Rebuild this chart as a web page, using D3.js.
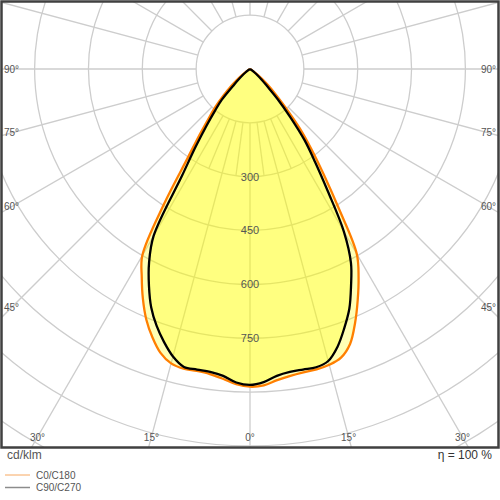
<!DOCTYPE html>
<html>
<head>
<meta charset="utf-8">
<script src="https://cdn.jsdelivr.net/npm/d3@7"></script>
<style>
  body { margin: 0; background: #fff; }
  svg { font-family: "Liberation Sans", Arial, sans-serif; }
</style>
</head>
<body>
<div id="chart"></div>
<script>
//Luminous intensity values (cd/klm), one array per C-plane half
var gammaDeg = [0, 2.5, 5, 7.5, 10, 12.5, 15, 17.5, 20, 22.5, 25, 27.5, 30, 32.5, 35, 37.5, 40, 42.5, 45,
    47.5, 50, 52.5, 55, 57.5, 60, 62.5, 65, 67.5, 70, 72.5, 75, 77.5, 80, 82.5, 85, 87.5, 90];

var c0Values = [886, 882, 870, 862, 858, 857, 853, 843, 815, 765, 710, 655, 595, 460, 357, 280, 215, 150, 105,
    75, 48, 28, 15, 7, 3, 1, 0, 0, 0, 0, 0, 0, 0, 0, 0, 0, 0];
var c180Values = [885, 879, 866, 857, 854, 855, 849, 829, 795, 755, 706, 653, 600, 445, 303, 230, 178, 142, 105,
    75, 48, 28, 15, 7, 3, 1, 0, 0, 0, 0, 0, 0, 0, 0, 0, 0, 0];
var c90Values = [880, 873, 858, 851, 850, 851, 842, 811, 768, 723, 666, 609, 523, 403, 316, 249, 173, 115, 67,
    45, 28, 16, 9, 5, 2, 1, 0, 0, 0, 0, 0, 0, 0, 0, 0, 0, 0];
var c270Values = [880, 874, 858, 851, 850, 850, 829, 797, 761, 719, 666, 609, 537, 352, 263, 199, 152, 116, 67,
    45, 28, 16, 9, 5, 2, 1, 0, 0, 0, 0, 0, 0, 0, 0, 0, 0, 0];

//Grid rings, the ones that get a label, and the angle ticks on the frame
var ringValues = [150, 300, 450, 600, 750, 900, 1050, 1200, 1350];
var ringLabels = [300, 450, 600, 750];
var angleTicks = [0, 15, 30, 45, 60, 75, 90];
//short in-between spokes under the pole (only between the first two rings)
var minorSpokes = [-22.5, -7.5, 7.5, 22.5];

var legendNames = ["C0/C180", "C90/C270"];
var legendColors = ["#f7a860", "#8c8c8c"];

var width = 500, height = 500;
var cx = 250, cy = 69;
var frame = { x: 1.5, y: 1.5, w: 497, h: 446 };
var rad = Math.PI / 180;

//Radius scale, 150 cd/klm is the little white disc round the pole
var rScale = d3.scaleLinear().domain([0, 150]).range([0, 53.85]);

var svg = d3.select("#chart")
    .append("svg")
    .attr("width", width)
    .attr("height", height);

svg.append("clipPath")
    .attr("id", "frameClip")
    .append("rect")
    .attr("x", frame.x)
    .attr("y", frame.y)
    .attr("width", frame.w)
    .attr("height", frame.h);

var plot = svg.append("g")
    .attr("clip-path", "url(#frameClip)")
    .append("g")
    .attr("transform", "translate(" + cx + "," + cy + ")");

//Rings
plot.selectAll("circle.ring")
    .data(ringValues)
    .enter()
    .append("circle")
    .attr("class", "ring")
    .attr("r", function (d) { return rScale(d); })
    .attr("fill", "none")
    .attr("stroke", "#cdcdcd")
    .attr("stroke-width", 1.3);

//Spokes: every 15 degrees out to the frame, plus the short ones
var spokes = d3.range(0, 360, 15).map(function (a) {
    return { a: a, r0: rScale(150), r1: rScale(1500) };
}).concat(minorSpokes.map(function (a) {
    return { a: a, r0: rScale(150), r1: rScale(300) };
}));

plot.selectAll("line.spoke")
    .data(spokes)
    .enter()
    .append("line")
    .attr("class", "spoke")
    .attr("x1", function (d) { return d.r0 * Math.sin(d.a * rad); })
    .attr("y1", function (d) { return d.r0 * Math.cos(d.a * rad); })
    .attr("x2", function (d) { return d.r1 * Math.sin(d.a * rad); })
    .attr("y2", function (d) { return d.r1 * Math.cos(d.a * rad); })
    .attr("stroke", "#cdcdcd")
    .attr("stroke-width", 1.3);

//Build the closed outline: left half from 90 down to 0, then right half back up to 90
function outline(leftValues, rightValues) {
    var pts = [];
    for (var i = gammaDeg.length - 1; i >= 0; i--) {
        pts.push({ a: Math.PI + gammaDeg[i] * rad, v: leftValues[i] });
    }
    for (var j = 1; j < gammaDeg.length; j++) {
        pts.push({ a: Math.PI - gammaDeg[j] * rad, v: rightValues[j] });
    }
    return pts;
}

var radialLine = d3.lineRadial()
    .angle(function (d) { return d.a; })
    .radius(function (d) { return rScale(d.v); })
    .curve(d3.curveCatmullRom.alpha(0.5));

var curves = [
    { name: "C0/C180", pts: outline(c180Values, c0Values), color: "#ff7f00" },
    { name: "C90/C270", pts: outline(c270Values, c90Values), color: "#000000" }
];

//Yellow fills first, then the outlines on top
plot.selectAll("path.fill")
    .data(curves)
    .enter()
    .append("path")
    .attr("class", "fill")
    .attr("d", function (d) { return radialLine(d.pts) + "Z"; })
    .attr("fill", "#ffff00")
    .attr("fill-opacity", 0.29)
    .attr("stroke", "none");

plot.selectAll("path.curve")
    .data(curves)
    .enter()
    .append("path")
    .attr("class", "curve")
    .attr("d", function (d) { return radialLine(d.pts); })
    .attr("fill", "none")
    .attr("stroke", function (d) { return d.color; })
    .attr("stroke-width", 2.3)
    .attr("stroke-linejoin", "round");

//Ring value labels down the 0 degree line
plot.selectAll("text.ringLabel")
    .data(ringLabels)
    .enter()
    .append("text")
    .attr("class", "ringLabel")
    .attr("x", 0)
    .attr("y", function (d) { return rScale(d); })
    .attr("dy", "0.35em")
    .attr("text-anchor", "middle")
    .attr("font-size", "11px")
    .attr("fill", "#555")
    .text(function (d) { return d; });

//Angle labels where the spokes meet the frame (both sides)
var angleLabelPos = [];
angleTicks.forEach(function (g) {
    var bottomY = 437, sideX = 238;
    var dx = (bottomY - cy) * Math.tan(g * rad);
    [-1, 1].forEach(function (s) {
        if (g === 0 && s === 1) return;
        if (dx <= sideX) {
            angleLabelPos.push({ t: g + "°", x: cx + s * dx, y: bottomY, anchor: "middle" });
        } else {
            angleLabelPos.push({
                t: g + "°",
                x: s < 0 ? 4 : 496,
                y: cy + sideX / Math.tan(g * rad),
                anchor: s < 0 ? "start" : "end"
            });
        }
    });
});

svg.selectAll("text.angle")
    .data(angleLabelPos)
    .enter()
    .append("text")
    .attr("class", "angle")
    .attr("x", function (d) { return d.x; })
    .attr("y", function (d) { return d.y; })
    .attr("dy", "0.35em")
    .attr("text-anchor", function (d) { return d.anchor; })
    .attr("font-size", "10px")
    .attr("fill", "#555")
    .text(function (d) { return d.t; });

//Frame
svg.append("rect")
    .attr("x", frame.x)
    .attr("y", frame.y)
    .attr("width", frame.w)
    .attr("height", frame.h)
    .attr("fill", "none")
    .attr("stroke", "#404040")
    .attr("stroke-width", 2.5);

//Unit, efficiency and legend under the frame
svg.append("text")
    .attr("x", 7)
    .attr("y", 455)
    .attr("dy", "0.35em")
    .attr("font-size", "12px")
    .attr("fill", "#555")
    .text("cd/klm");

svg.append("text")
    .attr("x", 492)
    .attr("y", 455)
    .attr("dy", "0.35em")
    .attr("text-anchor", "end")
    .attr("font-size", "12px")
    .attr("fill", "#333")
    .text("η = 100 %");

var legend = svg.selectAll("g.legend")
    .data(legendNames)
    .enter()
    .append("g")
    .attr("class", "legend")
    .attr("transform", function (d, i) { return "translate(0," + (475 + i * 12.5) + ")"; });

legend.append("line")
    .attr("x1", 5)
    .attr("x2", 30)
    .attr("stroke", function (d, i) { return legendColors[i]; })
    .attr("stroke-width", function (d, i) { return i === 0 ? 1 : 1.5; });

legend.append("text")
    .attr("x", 36)
    .attr("dy", "0.35em")
    .attr("font-size", "10px")
    .attr("fill", "#555")
    .text(function (d) { return d; });
</script>
</body>
</html>
